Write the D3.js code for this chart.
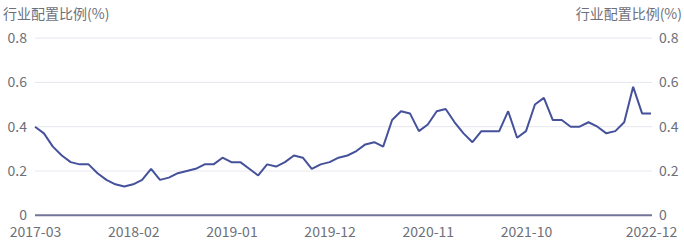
<!DOCTYPE html>
<html><head><meta charset="utf-8">
<script src="https://cdn.jsdelivr.net/npm/d3@7/dist/d3.min.js"></script>
<style>body{margin:0;background:#fff;}svg{display:block;}</style>
</head><body>
<svg id="c" width="684" height="249"></svg>
<script>
const startYear = 2017, startMonth = 3, monthCount = 70;
const values = [0.40,0.37,0.31,0.27,0.24,0.23,0.23,0.19,0.16,0.14,
  0.13,0.14,0.16,0.21,0.16,0.17,0.19,0.20,0.21,0.23,
  0.23,0.26,0.24,0.24,0.21,0.18,0.23,0.22,0.24,0.27,
  0.26,0.21,0.23,0.24,0.26,0.27,0.29,0.32,0.33,0.31,
  0.43,0.47,0.46,0.38,0.41,0.47,0.48,0.42,0.37,0.33,
  0.38,0.38,0.38,0.47,0.35,0.38,0.50,0.53,0.43,0.43,
  0.40,0.40,0.42,0.40,0.37,0.38,0.42,0.58,0.46,0.46];
const categories = d3.range(monthCount).map(i => {
  const m = startMonth - 1 + i;
  return (startYear + Math.floor(m / 12)) + "-" + String(m % 12 + 1).padStart(2, "0");
});
const shownLabels = ["2017-03","2018-02","2019-01","2019-12","2020-11","2021-10","2022-12"];
const yTicks = [0, 0.2, 0.4, 0.6, 0.8];
const axisTitle = "行业配置比例(%)";

const svg = d3.select("#c");
const L = 35, R = 651, T = 38.1, B = 215.3;
const x = d3.scalePoint().domain(categories).range([L, R]);
const y = d3.scaleLinear().domain([0, 0.8]).range([B, T]);
const font = "'Noto Sans CJK SC','Noto Sans',sans-serif";
const txt = "#6e7079";

// grid
svg.append("g").selectAll("line").data(yTicks.filter(d => d > 0)).join("line")
  .attr("x1", L).attr("x2", R + 1).attr("y1", d => y(d)).attr("y2", d => y(d))
  .attr("stroke", "#e6e6f0").attr("stroke-width", 1);

// left axis labels
const yl = d3.axisLeft(y).tickValues(yTicks).tickSize(0).tickPadding(0).tickFormat(d => d === 0 ? "0" : d3.format(".1f")(d));
const gl = svg.append("g").attr("transform", "translate(27,0)").call(yl);
gl.select(".domain").remove();
gl.selectAll("text").attr("fill", txt).style("font-size", "14px").style("font-family", font);
const yr = d3.axisRight(y).tickValues(yTicks).tickSize(0).tickPadding(0).tickFormat(d => d === 0 ? "0" : d3.format(".1f")(d));
const gr = svg.append("g").attr("transform", "translate(659,0)").call(yr);
gr.select(".domain").remove();
gr.selectAll("text").attr("fill", txt).style("font-size", "14px").style("font-family", font);

// x axis
const xa = d3.axisBottom(x).tickValues(shownLabels).tickSize(0).tickPadding(12);
const gx = svg.append("g").attr("transform", `translate(0,${B})`).call(xa);
gx.select(".domain").attr("d", `M${L},0H${R + 1}`).attr("stroke", "#727499").attr("stroke-width", 2);
gx.selectAll("text").attr("fill", txt).style("font-size", "14px").style("font-family", font);

// titles
svg.append("text").attr("x", 3).attr("y", 19).text(axisTitle)
  .attr("fill", txt).style("font-size", "14px").style("font-family", font);
svg.append("text").attr("x", 682).attr("y", 19).attr("text-anchor", "end").text(axisTitle)
  .attr("fill", txt).style("font-size", "14px").style("font-family", font);

// line
const line = d3.line().x((d, i) => x(categories[i])).y(d => y(d));
svg.append("path").datum(values).attr("d", line)
  .attr("fill", "none").attr("stroke", "#45519a").attr("stroke-width", 2).attr("stroke-linejoin", "bevel");
</script>
</body></html>
